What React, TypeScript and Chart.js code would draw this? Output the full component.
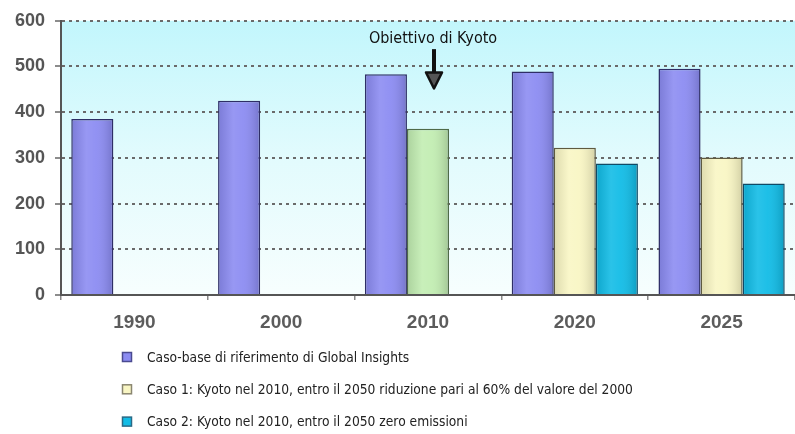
import React, { useEffect, useRef } from "react";
import { Chart, registerables } from "chart.js";

Chart.register(...registerables);

const CATEGORIES = ["1990", "2000", "2010", "2020", "2025"];
const BASE_CASE = [385, 425, 483, 489, 495];
const CASE_1 = [null, null, 364, 322, 301];
const CASE_2 = [null, null, null, 288, 244];
const Y_TICKS = [0, 100, 200, 300, 400, 500, 600];
const LEGEND_LABELS = [
  "Caso-base di riferimento di Global Insights",
  "Caso 1: Kyoto nel 2010, entro il 2050 riduzione pari al 60% del valore del 2000",
  "Caso 2: Kyoto nel 2010, entro il 2050 zero emissioni",
];
const ANNOTATION_TEXT = "Obiettivo di Kyoto";
const ANNOTATION_CATEGORY = 2;
const ANNOTATION_LABEL_VALUE = 552;
const ANNOTATION_ARROW_FROM = 538;
const ANNOTATION_ARROW_TO = 452;

const BLUE = "#8c8cf2";
const CREAM = "#f9f6c4";
const GREEN = "#c2edb2";
const CYAN = "#12bce6";

const bgPlugin = {
  id: "bgGradient",
  beforeDraw(chart: any) {
    const { ctx, chartArea } = chart;
    if (!chartArea) return;
    const g = ctx.createLinearGradient(0, chartArea.top, 0, chartArea.bottom);
    g.addColorStop(0, "#c2f6fc");
    g.addColorStop(0.5, "#e2fbfd");
    g.addColorStop(1, "#f7fefe");
    ctx.save();
    ctx.fillStyle = g;
    ctx.fillRect(chartArea.left, chartArea.top, chartArea.right - chartArea.left, chartArea.bottom - chartArea.top);
    ctx.restore();
  },
};

const barShadePlugin = {
  id: "barShade",
  afterDatasetsDraw(chart: any) {
    const { ctx } = chart;
    ctx.save();
    chart.data.datasets.forEach((ds: any, di: number) => {
      const meta = chart.getDatasetMeta(di);
      meta.data.forEach((bar: any, i: number) => {
        const v = ds.data[i];
        if (v === null || v === undefined) return;
        const { x, y, base, width } = bar.getProps(["x", "y", "base", "width"], true);
        const left = x - width / 2 + 1.5;
        const w = width - 3;
        const g = ctx.createLinearGradient(left, 0, left + w, 0);
        g.addColorStop(0, "rgba(0,0,0,0.10)");
        g.addColorStop(0.35, "rgba(255,255,255,0.10)");
        g.addColorStop(0.6, "rgba(255,255,255,0.05)");
        g.addColorStop(1, "rgba(0,0,0,0.14)");
        ctx.fillStyle = g;
        ctx.fillRect(left, y + 1.5, w, base - y - 1.5);
      });
    });
    ctx.restore();
  },
};

const annotationPlugin = {
  id: "kyotoAnnotation",
  afterDatasetsDraw(chart: any) {
    const { ctx } = chart;
    const xs = chart.scales.x;
    const ys = chart.scales.y;
    const cx = xs.getPixelForValue(ANNOTATION_CATEGORY) + 5;
    ctx.save();
    ctx.fillStyle = "#111";
    ctx.font = "16px 'DejaVu Sans Condensed', 'DejaVu Sans', sans-serif";
    ctx.textAlign = "center";
    ctx.textBaseline = "alphabetic";
    ctx.fillText(ANNOTATION_TEXT, cx, ys.getPixelForValue(ANNOTATION_LABEL_VALUE));
    const y0 = ys.getPixelForValue(ANNOTATION_ARROW_FROM);
    const y1 = ys.getPixelForValue(ANNOTATION_ARROW_TO);
    const ax = cx + 1;
    ctx.strokeStyle = "#111";
    ctx.lineWidth = 4;
    ctx.beginPath();
    ctx.moveTo(ax, y0);
    ctx.lineTo(ax, y1 - 14);
    ctx.stroke();
    ctx.beginPath();
    ctx.moveTo(ax - 8, y1 - 16);
    ctx.lineTo(ax + 8, y1 - 16);
    ctx.lineTo(ax, y1);
    ctx.closePath();
    ctx.fillStyle = "#555";
    ctx.fill();
    ctx.lineWidth = 2.5;
    ctx.lineJoin = "round";
    ctx.stroke();
    ctx.restore();
  },
};

const legendPlugin = {
  id: "sideLegend",
  afterDraw(chart: any) {
    const { ctx } = chart;
    ctx.save();
    ctx.font = "13.7px 'DejaVu Sans Condensed', 'DejaVu Sans', sans-serif";
    ctx.textBaseline = "middle";
    ctx.textAlign = "left";
    chart.data.datasets.forEach((ds: any, i: number) => {
      const cy = 357 + i * 32.3;
      ctx.fillStyle = ds.legendFill;
      ctx.fillRect(122.5, cy - 4.5, 9, 9);
      ctx.strokeStyle = ds.legendStroke;
      ctx.lineWidth = 1.5;
      ctx.strokeRect(122.5, cy - 4.5, 9, 9);
      ctx.fillStyle = "#222";
      ctx.fillText(ds.label, 147, cy + 1);
    });
    ctx.restore();
  },
};

export default function App() {
  const ref = useRef<HTMLCanvasElement | null>(null);
  useEffect(() => {
    document.body.style.margin = "0";
    const canvas = ref.current;
    if (!canvas) return;
    const chart = new Chart(canvas, {
      type: "bar",
      data: {
        labels: CATEGORIES,
        datasets: [
          {
            label: LEGEND_LABELS[0],
            data: BASE_CASE,
            backgroundColor: BLUE,
            borderColor: "#2e2e66",
            borderWidth: 1.5,
            legendFill: BLUE,
            legendStroke: "#4a4a90",
          } as any,
          {
            label: LEGEND_LABELS[1],
            data: CASE_1,
            backgroundColor: CATEGORIES.map((c) => (c === "2010" ? GREEN : CREAM)),
            borderColor: CATEGORIES.map((c) => (c === "2010" ? "#4f6a48" : "#5e5a40")),
            borderWidth: 1.5,
            legendFill: CREAM,
            legendStroke: "#8a8670",
          } as any,
          {
            label: LEGEND_LABELS[2],
            data: CASE_2,
            backgroundColor: CYAN,
            borderColor: "#0e4a66",
            borderWidth: 1.5,
            legendFill: CYAN,
            legendStroke: "#2a6a86",
          } as any,
        ],
      },
      options: {
        responsive: false,
        animation: false,
        layout: { padding: { top: 19, right: 0, left: 0, bottom: 0 } },
        plugins: { legend: { display: false }, tooltip: { enabled: false } },
        datasets: { bar: { categoryPercentage: 0.86, barPercentage: 1 } },
        scales: {
          x: {
            offset: true,
            grid: {
              offset: true,
              drawOnChartArea: false,
              drawTicks: true,
              tickLength: 5,
              color: "#888",
              lineWidth: 1.5,
            },
            border: { display: true, color: "#555", width: 2 },
            ticks: {
              color: "#5c5c5c",
              font: { family: "'Liberation Sans', Arial, sans-serif", size: 19, weight: "bold" },
              padding: 11,
            },
            afterFit: (s: any) => {
              s.height = 139;
            },
          },
          y: {
            min: 0,
            max: 600,
            afterBuildTicks: (s: any) => {
              s.ticks = Y_TICKS.map((v) => ({ value: v }));
            },
            grid: {
              color: "#6a6a6a",
              lineWidth: 2,
              drawTicks: true,
              tickLength: 6,
              tickColor: "#666",
              tickWidth: 1.5,
            },
            border: { display: true, color: "#555", width: 2, dash: [3, 4] },
            ticks: {
              color: "#555",
              font: { family: "'Liberation Sans', Arial, sans-serif", size: 18, weight: "bold" },
              padding: 10,
            },
            afterFit: (s: any) => {
              s.width = 61;
            },
          },
        },
      } as any,
      plugins: [bgPlugin, barShadePlugin, annotationPlugin, legendPlugin],
    });
    return () => chart.destroy();
  }, []);
  return (
    <div style={{ width: 795, height: 434 }}>
      <canvas ref={ref} width={795} height={434} />
    </div>
  );
}
